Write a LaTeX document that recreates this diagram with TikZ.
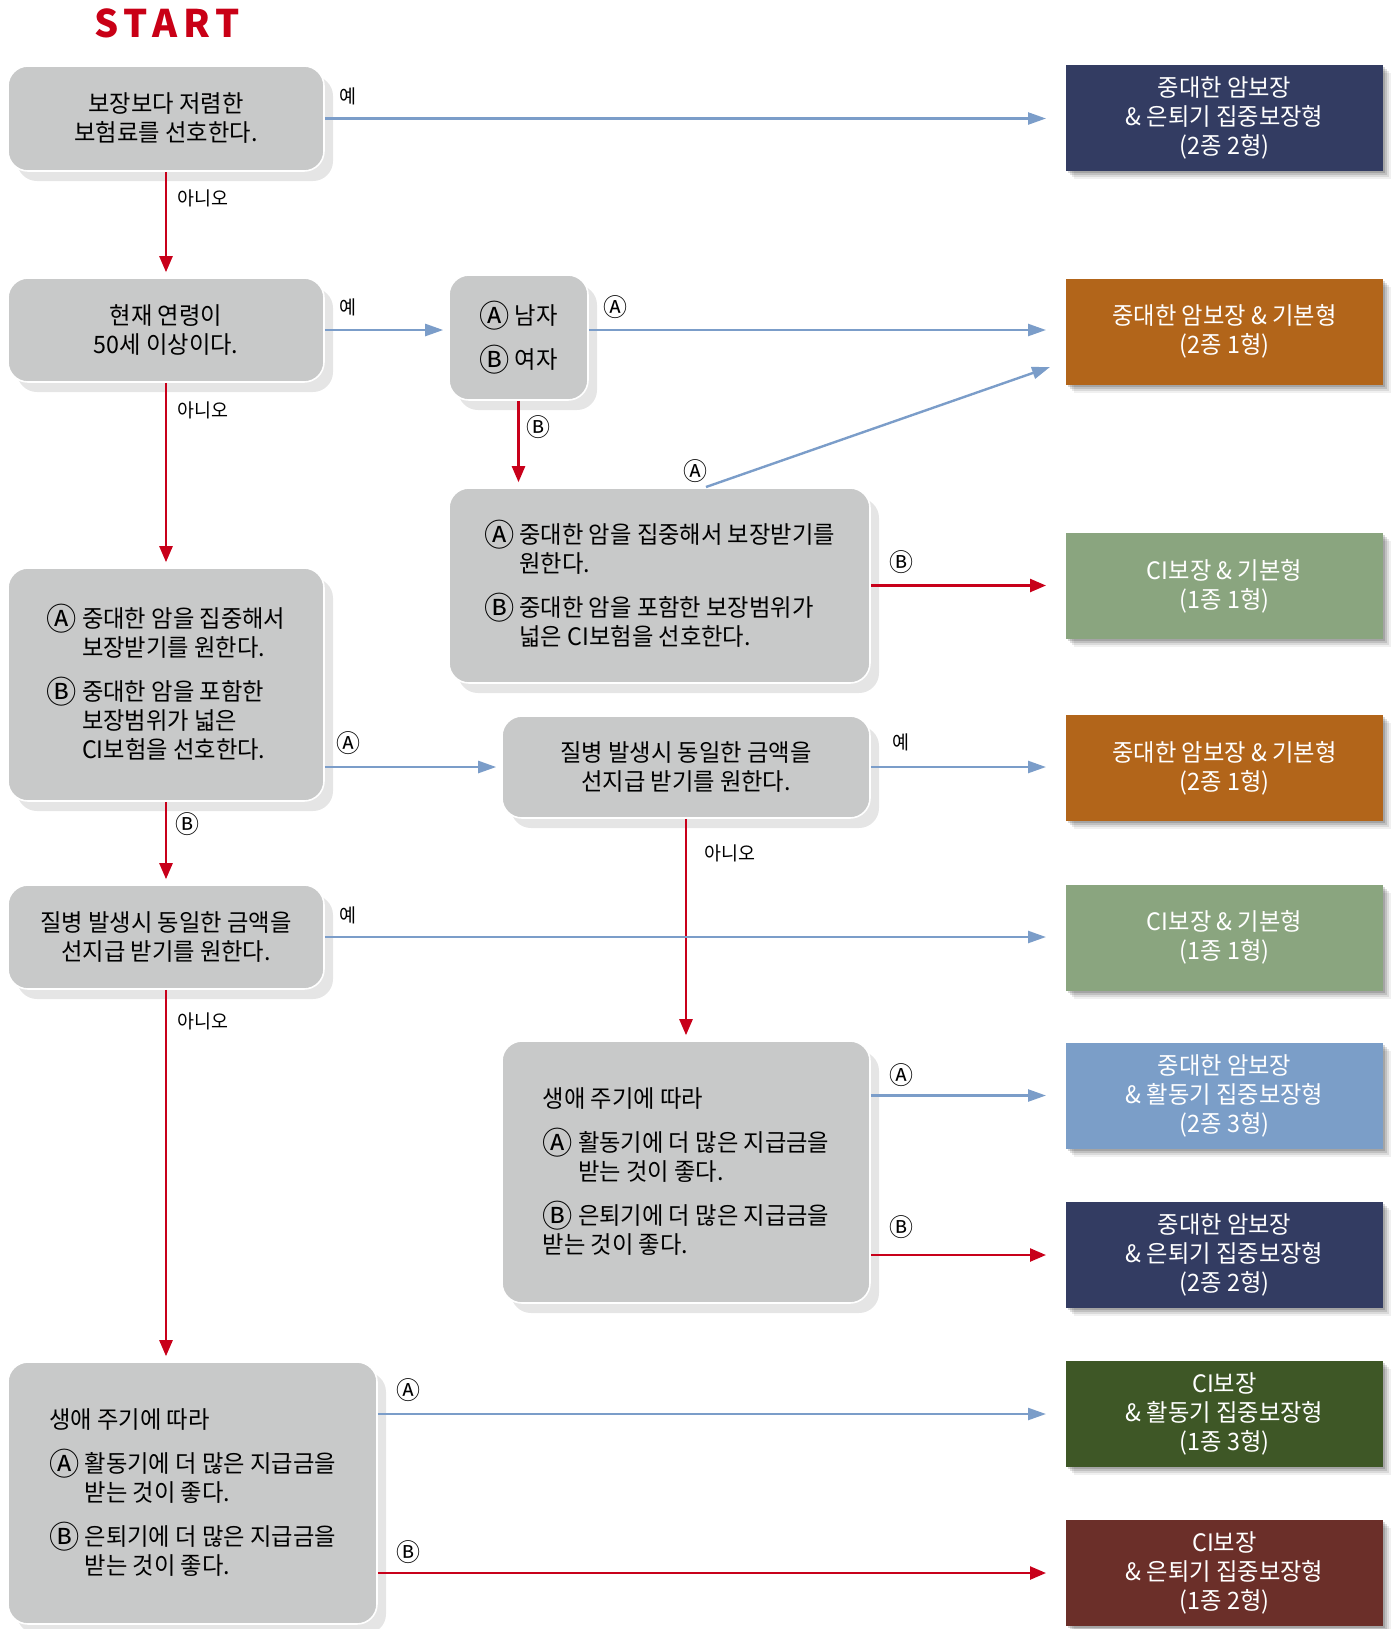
\documentclass[tikz,border=0pt]{standalone}
\usepackage{fontspec}
\setmainfont{Noto Sans CJK KR}[FakeStretch=0.97]
\newfontfamily\startfont{Noto Sans CJK KR}[LetterSpace=16]
\usepackage{xcolor}
\usetikzlibrary{arrows.meta,shadows}

\definecolor{boxgrey}{HTML}{C8C9C9}
\definecolor{shadegrey}{HTML}{E5E5E5}
\definecolor{startred}{HTML}{C90016}
\definecolor{arrowred}{HTML}{C8001A}
\definecolor{arrowblue}{HTML}{7B9DC9}
\definecolor{navy}{HTML}{333C62}
\definecolor{rust}{HTML}{B2651A}
\definecolor{sage}{HTML}{8AA57F}
\definecolor{sky}{HTML}{7B9EC8}
\definecolor{moss}{HTML}{3E5726}
\definecolor{maroon}{HTML}{6B2F29}

\newcommand{\qfont}{\fontsize{12}{14.5}\selectfont}
\newcommand{\lfont}{\fontsize{9.5}{11}\selectfont}
\newcommand{\gA}{\raisebox{-0.12em}{\scalebox{1.3}{Ⓐ}}}
\newcommand{\gB}{\raisebox{-0.12em}{\scalebox{1.3}{Ⓑ}}}
\newcommand{\cA}{\smash{\gA}}
\newcommand{\cB}{\smash{\gB}}
\newcommand{\ind}{\phantom{\cA\ }}

\tikzset{
  qbox/.style={rounded corners=10pt, fill=boxgrey, draw=white, line width=0.8pt,
    drop shadow={shadow xshift=4.5pt, shadow yshift=-5pt, fill=shadegrey, opacity=1},
    font=\qfont, align=left, inner sep=0pt},
  rbox/.style={fill=#1, minimum width=158.5pt, minimum height=53pt, inner sep=0pt,
    text=white, align=center, font=\qfont, outer xsep=7.5pt,
    drop shadow={shadow xshift=1pt, shadow yshift=-1pt, opacity=.15, fill=black},
    drop shadow={shadow xshift=2pt, shadow yshift=-2pt, opacity=.12, fill=black},
    drop shadow={shadow xshift=3pt, shadow yshift=-3pt, opacity=.09, fill=black},
    drop shadow={shadow xshift=4pt, shadow yshift=-4pt, opacity=.06, fill=black}},
  ya/.style={draw=arrowblue, line width=1.2pt, -{Triangle[length=9pt,width=6pt]}, shorten >=2.5pt},
  na/.style={draw=arrowred, line width=1.2pt, -{Triangle[length=8pt,width=6.5pt]}, shorten >=2.5pt},
  lab/.style={font=\lfont, inner sep=0pt}
}

\begin{document}
\begin{tikzpicture}[x=0.5pt, y=-0.5pt]
\useasboundingbox (0,0) rectangle (1394,1629);

\node[text=startred, font=\startfont\bfseries\fontsize{19}{23}\selectfont] (start) at (167,23) {START};

\node[qbox, minimum width=158pt, minimum height=52.5pt, align=center] (l1) at (166,118.5) {보장보다 저렴한\\보험료를 선호한다.};
\node[qbox, minimum width=158pt, minimum height=52pt, align=center] (l2) at (166,330) {현재 연령이\\50세 이상이다.};
\node[qbox, minimum width=158pt, minimum height=116.5pt] (l3) at (166,684.5) {\cA\ 중대한 암을 집중해서\\\ind 보장받기를 원한다.\\[7.5pt]\cB\ 중대한 암을 포함한\\\ind 보장범위가 넓은\\\ind CI보험을 선호한다.};
\node[qbox, minimum width=158pt, minimum height=52pt, align=center] (l4) at (166,937) {질병 발생시 동일한 금액을\\선지급 받기를 원한다.};
\node[qbox, minimum width=184.5pt, minimum height=131pt] (l5) at (192.5,1493) {생애 주기에 따라\\[7.5pt]\cA\ 활동기에 더 많은 지급금을\\\ind 받는 것이 좋다.\\[7.5pt]\cB\ 은퇴기에 더 많은 지급금을\\\ind 받는 것이 좋다.};

\node[qbox, minimum width=69.5pt, minimum height=62.5pt] (m1) at (518.5,337.5) {\cA\ 남자\\[7.5pt]\cB\ 여자};
\node[qbox, minimum width=210.5pt, minimum height=97.5pt] (m2) at (659.5,585.5) {\cA\ 중대한 암을 집중해서 보장받기를\\\ind 원한다.\\[7.5pt]\cB\ 중대한 암을 포함한 보장범위가\\\ind 넓은 CI보험을 선호한다.};
\node[qbox, minimum width=184pt, minimum height=51pt, align=center] (m3) at (686,767) {질병 발생시 동일한 금액을\\선지급 받기를 원한다.};
\node[qbox, minimum width=184pt, minimum height=131pt] (m4) at (686,1172) {생애 주기에 따라\\[7.5pt]\cA\ 활동기에 더 많은 지급금을\\\ind 받는 것이 좋다.\\[7.5pt]\cB\ 은퇴기에 더 많은 지급금을\\받는 것이 좋다.};

\node[rbox=navy] (r1) at (1224.5,118) {중대한 암보장\\\& 은퇴기 집중보장형\\(2종 2형)};
\node[rbox=rust] (r2) at (1224.5,331.5) {중대한 암보장 \& 기본형\\(2종 1형)};
\node[rbox=sage] (r3) at (1224.5,586) {CI보장 \& 기본형\\(1종 1형)};
\node[rbox=rust] (r4) at (1224.5,768) {중대한 암보장 \& 기본형\\(2종 1형)};
\node[rbox=sage] (r5) at (1224.5,937.5) {CI보장 \& 기본형\\(1종 1형)};
\node[rbox=sky] (r6) at (1224.5,1095.5) {중대한 암보장\\\& 활동기 집중보장형\\(2종 3형)};
\node[rbox=navy] (r7) at (1224.5,1255) {중대한 암보장\\\& 은퇴기 집중보장형\\(2종 2형)};
\node[rbox=moss] (r8) at (1224.5,1414) {CI보장\\\& 활동기 집중보장형\\(1종 3형)};
\node[rbox=maroon] (r9) at (1224.5,1573) {CI보장\\\& 은퇴기 집중보장형\\(1종 2형)};

\coordinate (m2top) at (706,487);
\coordinate (r2low) at (1050,367);

\draw[ya] (l1.east) -- (l1.east -| r1.west);
\draw[na] (l1.south) -- (l2.north);
\draw[ya] (l2.east) -- (l2.east -| m1.west);
\draw[ya] (m1.east |- l2.east) -- (r2.west |- l2.east);
\draw[na] (m1.south) -- (m1.south |- m2.north);
\draw[ya, shorten >=0pt] (m2top) -- (r2low);
\draw[na] (m2.east) -- (m2.east -| r3.west);
\draw[na] (l2.south) -- (l3.north);
\draw[ya] (l3.east |- m3.west) -- (m3.west);
\draw[ya] (m3.east) -- (m3.east -| r4.west);
\draw[na] (m3.south) -- (m4.north);
\draw[na] (l3.south) -- (l4.north);
\draw[ya] (l4.east) -- (l4.east -| r5.west);
\draw[na] (l4.south) -- (l4.south |- l5.north);
\draw[ya] (m4.east |- r6.west) -- (r6.west);
\draw[na] (m4.east |- r7.west) -- (r7.west);
\draw[ya] (l5.east |- r8.west) -- (r8.west);
\draw[na] (l5.east |- r9.west) -- (r9.west);

\node[lab] (t1) at (348,96) {예};
\node[lab] (t2) at (203,198) {아니오};
\node[lab] (t3) at (348,307) {예};
\node[lab] (t4) at (615,307) {\gA};
\node[lab] (t5) at (538,427) {\gB};
\node[lab] (t6) at (695,471) {\gA};
\node[lab] (t7) at (901,562) {\gB};
\node[lab] (t8) at (203,410) {아니오};
\node[lab] (t9) at (348,743) {\gA};
\node[lab] (t10) at (901,742) {예};
\node[lab] (t11) at (730,853) {아니오};
\node[lab] (t12) at (187,824) {\gB};
\node[lab] (t13) at (348,915) {예};
\node[lab] (t14) at (203,1021) {아니오};
\node[lab] (t15) at (901,1075) {\gA};
\node[lab] (t16) at (901,1227) {\gB};
\node[lab] (t17) at (408,1390) {\gA};
\node[lab] (t18) at (408,1552) {\gB};
\end{tikzpicture}
\end{document}
